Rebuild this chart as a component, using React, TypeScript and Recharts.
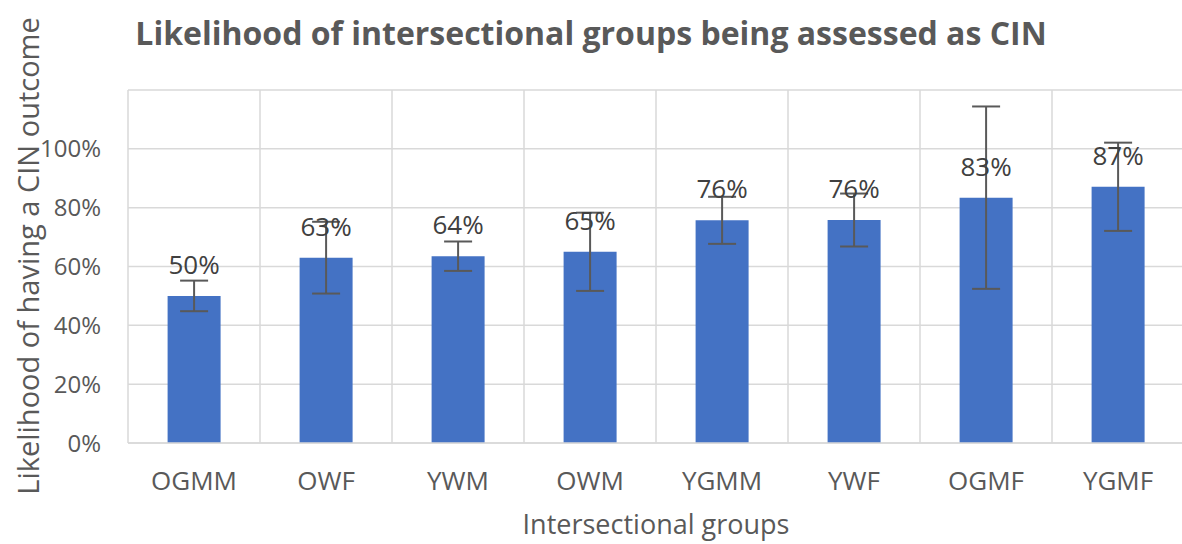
import React from "react";
import {
    BarChart,
    Bar,
    XAxis,
    YAxis,
    CartesianGrid,
    ErrorBar,
    LabelList,
    Label,
} from "recharts";

const groups = ["OGMM", "OWF", "YWM", "OWM", "YGMM", "YWF", "OGMF", "YGMF"];
const likelihood = [0.5, 0.63, 0.635, 0.65, 0.757, 0.758, 0.834, 0.871];
const errorMargin = [0.052, 0.122, 0.05, 0.133, 0.08, 0.09, 0.31, 0.15];
const yTicks = [0, 0.2, 0.4, 0.6, 0.8, 1.0, 1.2];

const data = groups.map((g, i) => ({
    group: g,
    value: likelihood[i],
    err: errorMargin[i],
}));

const FONT = "'Open Sans', 'Noto Sans', sans-serif";
const GREY = "#595959";

const pct = (v: number) => `${Math.round(v * 100)}%`;

export default function App() {
    return (
        <div style={{ position: "absolute", left: 0, top: 0, background: "#fff" }}>
            <BarChart
                width={1190}
                height={544}
                data={data}
                margin={{ top: 90, right: 6, bottom: 41, left: 0 }}
                barCategoryGap="30%"
                style={{ fontFamily: FONT }}
            >
                <CartesianGrid
                    stroke="#d9d9d9"
                    strokeWidth={1.5}
                    verticalCoordinatesGenerator={({ offset }: any) => {
                        const step = offset.width / groups.length;
                        return groups.map((_, i) => offset.left + i * step).concat(offset.left + offset.width);
                    }}
                />
                <XAxis
                    dataKey="group"
                    height={60}
                    axisLine={{ stroke: "#d9d9d9", strokeWidth: 1.5 }}
                    tickLine={false}
                    tickSize={0}
                    tickMargin={29}
                    tick={{ fill: GREY, fontSize: 26, fontFamily: FONT }}
                    interval={0}
                >
                    <Label
                        content={() => (
                            <text x={656} y={534} textAnchor="middle" fill={GREY} fontSize={27} fontFamily={FONT}>
                                Intersectional groups
                            </text>
                        )}
                    />
                </XAxis>
                <YAxis
                    width={128}
                    domain={[0, 1.2]}
                    ticks={yTicks}
                    tickFormatter={(v: number) => (v > 1.05 ? "" : pct(v))}
                    axisLine={false}
                    tickLine={false}
                    tickSize={0}
                    tickMargin={27}
                    tick={{ fill: GREY, fontSize: 24, fontFamily: FONT }}
                >
                    <Label
                        content={() => (
                            <text
                                x={27}
                                y={256}
                                transform="rotate(-90 27 256)"
                                textAnchor="middle"
                                dominantBaseline="central"
                                fill={GREY}
                                fontSize={29}
                                fontFamily={FONT}
                            >
                                Likelihood of having a CIN outcome
                            </text>
                        )}
                    />
                    <Label
                        content={() => (
                            <text x={591} y={45} textAnchor="middle" fill={GREY} fontSize={32} fontWeight="bold" fontFamily={FONT}>
                                Likelihood of intersectional groups being assessed as CIN
                            </text>
                        )}
                    />
                </YAxis>
                <Bar dataKey="value" fill="#4472C4" isAnimationActive={false}>
                    <LabelList
                        dataKey="value"
                        position="top"
                        offset={22}
                        formatter={(v: any) => pct(Number(v))}
                        style={{ fill: "#404040", fontSize: 26, fontFamily: FONT }}
                    />
                    <ErrorBar dataKey="err" direction="y" width={14} stroke={GREY} strokeWidth={2} />
                </Bar>
            </BarChart>
        </div>
    );
}
